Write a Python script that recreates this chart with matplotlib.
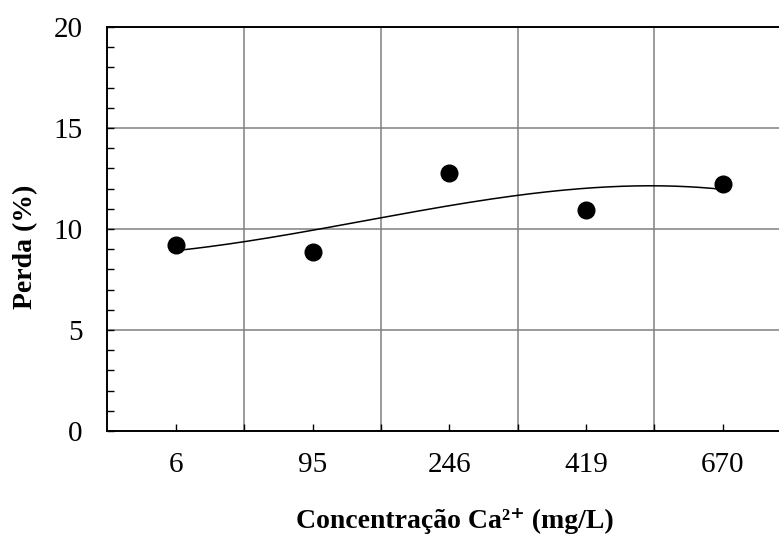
import numpy as np
import matplotlib.pyplot as plt
from matplotlib.ticker import MultipleLocator, FixedLocator

# data
categories = ["6", "95", "246", "419", "670"]
perda = [9.2, 8.86, 12.77, 10.94, 12.23]

plt.rcParams["font.family"] = ["Liberation Serif", "DejaVu Serif"]

fig = plt.figure(figsize=(7.79, 5.36), dpi=100)
ax = fig.add_axes([107.5 / 779, 105 / 536, 683.5 / 779, 404 / 536])

x = np.arange(len(categories))

# cubic trend line (as in the spreadsheet)
coef = np.polyfit(x, perda, 3)
xf = np.linspace(x[0], x[-1], 200)
ax.plot(xf, np.polyval(coef, xf), color="black", lw=1.1, zorder=3)
ax.plot(x, perda, "o", color="black", ms=12, zorder=4)

ax.set_xlim(-0.5, len(categories) - 0.5)
ax.set_ylim(0, 20)

ax.set_xticks(x)
ax.set_xticklabels(categories)
ax.xaxis.set_minor_locator(FixedLocator(np.arange(0.5, len(categories) - 0.5, 1)))
ax.yaxis.set_major_locator(MultipleLocator(5))
ax.yaxis.set_minor_locator(MultipleLocator(1))

ax.tick_params(axis="both", which="both", direction="in", color="black")
ax.tick_params(axis="both", which="major", length=5, width=1, labelsize=21)
ax.tick_params(axis="x", which="major", pad=15)
ax.tick_params(axis="y", which="major", pad=18)
ax.tick_params(axis="both", which="minor", length=5, width=1)
ax.tick_params(axis="y", which="both", right=False)
ax.tick_params(axis="x", which="both", top=False)

# grid: horizontal on majors, vertical on category boundaries
for yv in [5, 10, 15]:
    ax.axhline(yv, color="#808080", lw=1.1, zorder=1)
for xv in np.arange(0.5, len(categories) - 0.5, 1):
    ax.axvline(xv, color="#808080", lw=1.1, zorder=1)

for s in ax.spines.values():
    s.set_color("black")
    s.set_linewidth(1.4)

ax.set_xlabel("Concentração Ca²⁺ (mg/L)", fontsize=20, fontweight="bold", va="center")
ax.xaxis.set_label_coords(0.508, -0.224)
ax.set_ylabel("Perda (%)", fontsize=20, fontweight="bold")
ax.yaxis.set_label_coords(-0.102, 0.455)

fig.savefig("out.png", dpi=100)
